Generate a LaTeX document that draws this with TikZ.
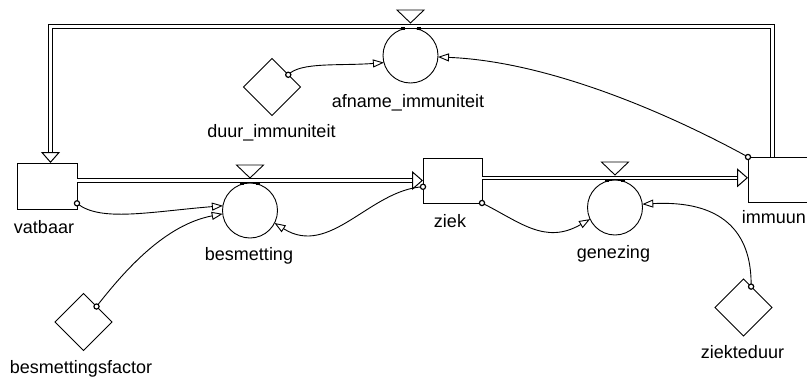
\documentclass[tikz,border=0pt]{standalone}
\usepackage{fontspec}
\setmainfont{Liberation Sans}
\usetikzlibrary{arrows.meta,shapes.geometric}

\tikzset{
  stock/.style={draw, line width=1pt, rectangle, inner sep=0pt, outer sep=0pt,
    minimum width=60pt, minimum height=46pt},
  rate/.style={draw, line width=0.9pt, circle, inner sep=0pt, outer sep=0pt, minimum size=55pt},
  constant/.style={draw, line width=0.9pt, diamond, aspect=1, inner sep=0pt, outer sep=0pt,
    minimum width=57pt, minimum height=57pt},
  vlabel/.style={anchor=base, inner sep=0pt, font=\fontsize{18}{20}\selectfont},
  pipe/.style={draw, line width=1.2pt, double=white, double distance=2.2pt},
  pipetip/.style={line width=1pt, -{Triangle[open, length=11pt, width=19pt]}},
  link/.style={line width=0.9pt, -{Triangle[open, length=11pt, width=8pt]}},
  startdot/.style={line width=1.2pt, fill=white},
  pics/valve/.style={code={
    \draw[line width=0.9pt, fill=white] (-13.5,-13) -- (13.5,-13) -- (0,0) -- cycle;
    \fill (-10,4) rectangle (-6,6.5);
    \fill (6,4) rectangle (10,6.5);
  }},
}

\begin{document}
\begin{tikzpicture}[x=1pt, y=-1pt]
  \useasboundingbox (0,0) rectangle (807,378);
  \clip (0,0) rectangle (807,378);

  % stocks
  \node[stock] (vatbaar) at (47,186) {};
  \node[stock, minimum width=59pt, minimum height=45pt] (ziek) at (452.5,180.5) {};
  \node[stock, minimum width=64pt, minimum height=45pt] (immuun) at (780,179.5) {};

  % rates
  \node[rate] (besmetting) at (250,210.5) {};
  \node[rate] (genezing) at (615,207.5) {};
  \node[rate] (afname) at (410.5,55.5) {};

  % constants
  \node[constant] (duur) at (272,87) {};
  \node[constant] (factor) at (83.5,322) {};
  \node[constant] (ziekteduur) at (743.5,307.5) {};

  % flow vatbaar -> ziek
  \coordinate (f1a) at (vatbaar.east |- 0,180.5);
  \coordinate (f1c) at (ziek.west |- 0,180.5);
  \coordinate (f1b) at ([xshift=-11pt]f1c);
  \draw[pipe] (f1a) -- (f1b);
  \draw[pipetip] (f1b) -- (f1c);

  % flow ziek -> immuun
  \coordinate (f2a) at (ziek.east |- 0,177.8);
  \coordinate (f2c) at (immuun.west |- 0,177.8);
  \coordinate (f2b) at ([xshift=-11pt]f2c);
  \draw[pipe] (f2a) -- (f2b);
  \draw[pipetip] (f2b) -- (f2c);

  % flow immuun -> vatbaar (over the top)
  \coordinate (f3a) at (immuun.north -| 772.5,0);
  \coordinate (f3d) at (vatbaar.north -| 50.5,0);
  \coordinate (f3c) at ([yshift=11pt]f3d);
  \draw[pipe] (f3a) -- (772.5,26.5) -- (50.5,26.5) -- (f3c);
  \draw[pipetip] (f3c) -- (f3d);

  % valves
  \pic at ([yshift=5pt]besmetting.north) {valve};
  \pic at ([yshift=5pt]genezing.north) {valve};
  \pic at ([yshift=5pt]afname.north) {valve};

  % information links
  \draw[link] (vatbaar.-30) .. controls +(23,19) and +(-73,6) .. (besmetting.170);
  \draw[link] (factor.50) .. controls +(28.5,-36.5) and +(-57.7,11) .. (besmetting.187);
  \draw[link] (ziek.192) .. controls +(-53,3) and +(55.5,35) .. (besmetting.-27);
  \draw[link] (ziek.south east) .. controls +(38,19) and +(-45,26) .. (genezing.205);
  \draw[link] (ziekteduur.70) .. controls +(1,-56.6) and +(77.7,-4) .. (genezing.7);
  \draw[link] (duur.37) .. controls +(12,-13) and +(-44,3.4) .. (afname.195);
  \draw[link] (immuun.north west) .. controls +(-58,-32) and +(122,5) .. (afname.-3);

  % link origins
  \draw[startdot] (vatbaar.-30) circle (2.6pt);
  \draw[startdot] (factor.50) circle (2.6pt);
  \draw[startdot] (ziek.192) circle (2.6pt);
  \draw[startdot] (ziek.south east) circle (2.6pt);
  \draw[startdot] (ziekteduur.70) circle (2.6pt);
  \draw[startdot] (duur.37) circle (2.6pt);
  \draw[startdot] (immuun.north west) circle (2.6pt);

  % names
  \node[vlabel] (lvatbaar) at (44,233) {vatbaar};
  \node[vlabel] (lziek) at (450,227) {ziek};
  \node[vlabel, anchor=base east] (limmuun) at (806,223) {immuun};
  \node[vlabel] (lbesmetting) at (249,260) {besmetting};
  \node[vlabel] (lgenezing) at (613.5,258) {genezing};
  \node[vlabel] (lafname) at (408,107) {afname\_immuniteit};
  \node[vlabel] (lduur) at (271.5,137) {duur\_immuniteit};
  \node[vlabel] (lfactor) at (81,373) {besmettingsfactor};
  \node[vlabel] (lziekteduur) at (742.5,358) {ziekteduur};
\end{tikzpicture}
\end{document}
